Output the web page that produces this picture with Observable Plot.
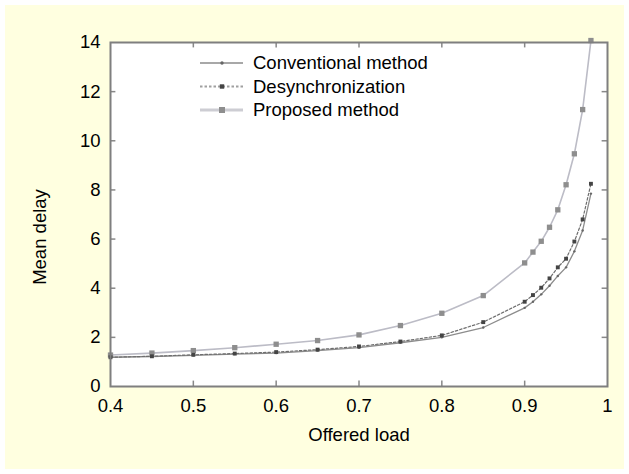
<!DOCTYPE html>
<html><head><meta charset="utf-8">
<script src="https://cdn.jsdelivr.net/npm/d3@7"></script>
<script src="https://cdn.jsdelivr.net/npm/@observablehq/plot@0.6"></script>
<style>
body{margin:0;background:#fff;}
#wrap{position:relative;width:629px;height:474px;}
#bg{position:absolute;left:5px;top:5px;width:619px;height:464px;background:#ffffe0;}
#chart{position:absolute;left:0;top:0;}
</style></head><body><div id="wrap"><div id="bg"></div><div id="chart"></div></div>
<script>
const load = [0.4,0.45,0.5,0.55,0.6,0.65,0.7,0.75,0.8,0.85,0.9,0.91,0.92,0.93,0.94,0.95,0.96,0.97,0.98];
const conventional = [1.19,1.22,1.27,1.32,1.36,1.46,1.58,1.78,2.00,2.40,3.20,3.45,3.75,4.10,4.50,4.85,5.50,6.35,7.85];
const desync = [1.19,1.23,1.29,1.34,1.40,1.50,1.63,1.83,2.08,2.62,3.45,3.72,4.02,4.40,4.85,5.20,5.90,6.80,8.25];
const proposed = [1.28,1.36,1.46,1.58,1.72,1.87,2.10,2.48,2.98,3.70,5.03,5.47,5.91,6.48,7.19,8.21,9.47,11.27,14.08];
const seriesNames = ["Conventional method","Desynchronization","Proposed method"];
const xTicks = [0.4,0.5,0.6,0.7,0.8,0.9,1];
const xTickLabels = ["0.4","0.5","0.6","0.7","0.8","0.9","1"];
const yTicks = [0,2,4,6,8,10,12,14];
const yTickLabels = ["0","2","4","6","8","10","12","14"];
const xLabel = "Offered load";
const yLabel = "Mean delay";

const FONT = "'Liberation Sans', Arial, sans-serif";
const FS = 18.5;

const styles = {
  "Conventional method": {stroke:"#8c8c8c", lstroke:"#a8a8a8", lw:1.8, dash:null, width:1.3, mfill:"#666", symbol:"circle", r:1.2},
  "Desynchronization": {stroke:"#6e6e6e", lstroke:"#a0a0a0", lw:1.8, dash:"2.5,2", width:1.2, mfill:"#444", symbol:"square", r:2.2},
  "Proposed method": {stroke:"#bcbcc6", lstroke:"#cdcdd3", lw:3, dash:null, width:1.6, mfill:"#8e8e8e", symbol:"square", r:3}
};
const seriesVals = [conventional, desync, proposed];
const rows = seriesNames.map((name,k)=>load.map((x,i)=>({x, y:seriesVals[k][i], name})));

const xFmt = new Map(xTicks.map((d,i)=>[d,xTickLabels[i]]));
const yFmt = new Map(yTicks.map((d,i)=>[d,yTickLabels[i]]));

const marks = [Plot.frame({fill:"white"})];
marks.push(Plot.ruleX(xTicks.slice(1,-1), {y1:0, y2:0.22, stroke:"#888", strokeWidth:1.5}));
marks.push(Plot.ruleX(xTicks.slice(1,-1), {y1:14, y2:13.78, stroke:"#888", strokeWidth:1.5}));
marks.push(Plot.ruleY(yTicks.slice(1,-1), {x1:0.4, x2:0.4065, stroke:"#888", strokeWidth:1.5}));
marks.push(Plot.ruleY(yTicks.slice(1,-1), {x1:1, x2:0.9935, stroke:"#888", strokeWidth:1.5}));
[2,0,1].forEach(k=>{
  const s = styles[seriesNames[k]];
  marks.push(Plot.line(rows[k], {x:"x", y:"y", stroke:s.stroke, strokeWidth:s.width, strokeDasharray:s.dash}));
  marks.push(Plot.dot(rows[k], {x:"x", y:"y", symbol:s.symbol, r:s.r, fill:s.mfill, stroke:"none"}));
});
marks.push(Plot.frame({stroke:"#7f7f7f", strokeWidth:2}));
marks.push(Plot.axisX({ticks:xTicks, tickFormat:d=>xFmt.get(d), tickSize:0, tickPadding:12, fontSize:FS, label:null}));
marks.push(Plot.axisY({ticks:yTicks, tickFormat:d=>yFmt.get(d), tickSize:0, tickPadding:10, fontSize:FS, label:null}));
marks.push(Plot.text([xLabel], {text:d=>d, frameAnchor:"bottom", dy:54, fontSize:FS}));

const plot = Plot.plot({
  width:629, height:474,
  marginLeft:110, marginRight:22, marginTop:42, marginBottom:88,
  x:{domain:[0.4,1], axis:null, label:null},
  y:{domain:[0,14], axis:null, label:null},
  style:{background:"transparent", fontFamily:FONT, fontSize:FS+"px", color:"#000"},
  marks
});
document.getElementById("chart").appendChild(plot);

const svg = d3.select(plot);
svg.append("text").attr("transform","translate(40,237) rotate(-90)")
  .attr("text-anchor","middle").attr("dy","0.35em")
  .attr("font-family",FONT).attr("font-size",FS).attr("fill","#000").text(yLabel);

const lg = svg.append("g").attr("font-family",FONT).attr("font-size",FS).attr("text-anchor","start");
seriesNames.forEach((name,i)=>{
  const s = styles[name];
  const yy = 63 + i*23.5;
  lg.append("line").attr("x1",200).attr("x2",243).attr("y1",yy).attr("y2",yy)
    .attr("stroke",s.lstroke).attr("stroke-width",s.lw).attr("stroke-dasharray",s.dash);
  lg.append("path").attr("transform",`translate(222,${yy})`)
    .attr("d", d3.symbol(s.symbol==="square"?d3.symbolSquare:d3.symbolCircle, s.symbol==="square"? (2*s.r)**2 : Math.PI*s.r*s.r*2)())
    .attr("fill",s.mfill);
  lg.append("text").attr("x",253).attr("y",yy).attr("dy","0.35em").attr("fill","#000").text(name);
});
</script></body></html>
